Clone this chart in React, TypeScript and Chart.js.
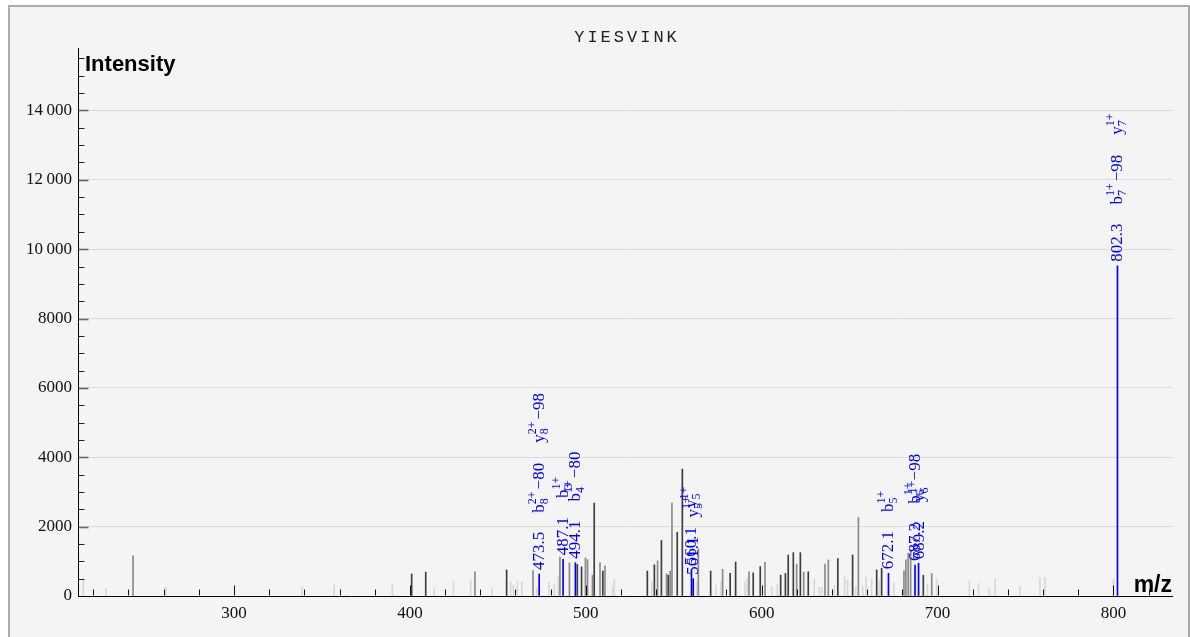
import React, { useEffect, useRef } from "react";
import { Chart, registerables } from "chart.js";
Chart.register(...registerables);

const titleText = "YIESVINK";
const yAxisTitle = "Intensity";
const xAxisTitle = "m/z";
const xTickValues = [300, 400, 500, 600, 700, 800];
const yTickValues = [0, 2000, 4000, 6000, 8000, 10000, 12000, 14000];

// faint (unmatched, low) peaks
const lightMz = [214.3, 227.2, 261.3, 338.7, 356.9, 390.0, 413.9, 424.8, 434.6, 446.7, 457.3, 458.8, 461.1, 463.6, 472.1, 479.1, 482.1, 484.4, 515.3, 516.2, 537.5, 563.2, 574.0, 576.9, 590.5, 591.8, 605.7, 608.9, 629.9, 632.8, 634.2, 641.4, 647.2, 648.8, 653.5, 657.4, 659.3, 662.5, 666.9, 675.2, 694.2, 699.5, 718.1, 723.3, 729.4, 732.7, 747.0, 758.2, 761.1, 800.0];
const lightInt = [490, 230, 240, 270, 320, 320, 230, 410, 460, 230, 410, 320, 430, 410, 230, 390, 350, 560, 300, 490, 410, 410, 320, 410, 410, 510, 270, 350, 490, 250, 250, 300, 560, 470, 270, 290, 550, 490, 460, 380, 350, 490, 430, 370, 220, 510, 270, 540, 530, 480];

// mid-gray peaks
const grayMz = [242.6, 437.0, 470.0, 485.3, 490.7, 499.8, 501.0, 503.8, 508.1, 510.9, 540.8, 545.9, 548.0, 549.0, 564.0, 577.8, 592.8, 601.9, 619.9, 623.9, 636.0, 637.9, 655.0, 680.9, 682.0, 683.3, 684.7, 696.7];
const grayInt = [1160, 700, 730, 1120, 950, 1100, 1050, 600, 965, 870, 1010, 640, 720, 2680, 1360, 770, 700, 970, 920, 690, 920, 1040, 2260, 730, 1040, 1230, 1330, 650];

// dark peaks
const darkMz = [401.0, 409.0, 455.0, 495.2, 497.6, 504.8, 509.7, 535.0, 539.0, 543.0, 546.9, 552.0, 554.9, 571.0, 582.1, 585.2, 595.2, 599.2, 610.8, 613.5, 615.1, 618.0, 622.0, 626.5, 643.3, 651.7, 665.4, 668.2, 691.9];
const darkInt = [635, 690, 750, 910, 840, 2680, 715, 720, 900, 1600, 600, 1840, 3660, 720, 655, 980, 670, 850, 600, 650, 1180, 1250, 1250, 700, 1080, 1180, 750, 800, 600];

// annotated (matched) peaks
const matchedMz = [473.5, 487.1, 494.1, 560.1, 561.1, 672.1, 687.2, 689.2, 802.3];
const matchedInt = [635, 1060, 960, 770, 500, 655, 895, 945, 9520];
// ion labels: base|subscript|superscript|suffix
const matchedIons = [
  ["b|8|2+|\u221280", "y|8|2+|\u221298"],
  ["b|3|1+|"],
  ["b|4|1+|\u221280"],
  ["y|5|1+|"],
  ["y|5|1+|"],
  ["b|5|1+|"],
  ["b|6|1+|\u221298"],
  ["y|6|1+|"],
  ["b|7|1+|\u221298", "y|7|1+|"],
];

const BLUE = "#0000ff";
const SERIF = '"Liberation Serif", "Times New Roman", serif';
const SANS = '"Liberation Sans", Arial, sans-serif';

const toPoints = (mz: number[], it: number[]) => mz.map((m, i) => ({ x: m, y: it[i] }));

const fmtY = (v: number) => {
  if (v >= 10000) {
    const s = String(v);
    return s.slice(0, s.length - 3) + "\u2009" + s.slice(s.length - 3);
  }
  return String(v);
};

const decorPlugin = {
  id: "decor",
  afterDatasetsDraw(chart: any) {
    const ctx = chart.ctx as CanvasRenderingContext2D;
    const xs = chart.scales.x;
    const ys = chart.scales.y;
    const area = chart.chartArea;
    ctx.save();
    // y ticks (inside)
    const x0 = Math.round(area.left) + 0.5;
    for (let v = 500; v <= 15500; v += 500) {
      const py = Math.round(ys.getPixelForValue(v)) + 0.5;
      const major = v % 2000 === 0;
      ctx.beginPath();
      ctx.strokeStyle = major ? "#666" : "#222";
      ctx.lineWidth = major ? 1.6 : 1;
      ctx.moveTo(x0, py);
      ctx.lineTo(x0 + (major ? 10 : 6), py);
      ctx.stroke();
    }
    // x ticks (inside)
    const yb = Math.round(area.bottom) - 0.5;
    for (let v = 220; v <= 820; v += 20) {
      const px = Math.round(xs.getPixelForValue(v)) + 0.5;
      const major = v % 100 === 0;
      ctx.beginPath();
      ctx.strokeStyle = "#111";
      ctx.lineWidth = 1;
      ctx.moveTo(px, yb);
      ctx.lineTo(px, yb - (major ? 10 : 6));
      ctx.stroke();
    }
    // axis titles
    ctx.fillStyle = "#000";
    ctx.font = `bold 22px ${SANS}`;
    ctx.textAlign = "left";
    ctx.textBaseline = "alphabetic";
    ctx.fillText(yAxisTitle, area.left + 7, area.top + 23);
    ctx.textAlign = "right";
    ctx.font = `bold 23px ${SANS}`;
    ctx.fillText(xAxisTitle, area.right, area.bottom - 4);
    // title
    ctx.font = `17px "Liberation Mono", "Courier New", monospace`;
    (ctx as any).letterSpacing = "3px";
    ctx.fillStyle = "#222";
    ctx.textAlign = "center";
    ctx.textBaseline = "middle";
    ctx.fillText(titleText, (area.left + area.right) / 2 + 2, area.top - 11);
    (ctx as any).letterSpacing = "0px";

    // peak annotations
    const meta = chart.getDatasetMeta(0);
    ctx.fillStyle = BLUE;
    ctx.textAlign = "left";
    ctx.textBaseline = "alphabetic";
    meta.data.forEach((el: any, i: number) => {
      ctx.save();
      ctx.translate(el.x, el.y - 4);
      ctx.rotate(-Math.PI / 2);
      ctx.font = `17px ${SERIF}`;
      const num = matchedMz[i].toFixed(1);
      ctx.fillText(num, 0, 5);
      let pos = ctx.measureText(num).width + 19;
      for (const ion of matchedIons[i]) {
        const [base, sub, sup, suffix] = ion.split("|");
        ctx.font = `17px ${SERIF}`;
        ctx.fillText(base, pos, 5);
        pos += ctx.measureText(base).width;
        ctx.font = `12px ${SERIF}`;
        ctx.fillText(sub, pos, 9);
        ctx.fillText(sup, pos, -3);
        pos += Math.max(ctx.measureText(sub).width, ctx.measureText(sup).width);
        if (suffix) {
          ctx.font = `17px ${SERIF}`;
          pos += 2;
          ctx.fillText(suffix, pos, 5);
          pos += ctx.measureText(suffix).width;
        }
        pos += 20;
      }
      ctx.restore();
    });
    ctx.restore();
  },
};

export default function App() {
  const ref = useRef<HTMLCanvasElement | null>(null);
  useEffect(() => {
    if (!ref.current) return;
    const barDs = (label: string, data: any[], color: string) => ({
      type: "bar" as const,
      label,
      data,
      backgroundColor: color,
      borderWidth: 0,
      barThickness: 1,
      grouped: false,
    });
    const chart = new Chart(ref.current, {
      type: "bar",
      data: {
        datasets: [
          barDs("matched", toPoints(matchedMz, matchedInt), BLUE),
          barDs("dark", toPoints(darkMz, darkInt), "#3c3c3c"),
          barDs("gray", toPoints(grayMz, grayInt), "#8a8a8a"),
          barDs("light", toPoints(lightMz, lightInt), "#d8d8d8"),
        ] as any,
      },
      options: {
        animation: false,
        responsive: false,
        devicePixelRatio: 1,
        layout: { padding: { top: 41, right: 16, left: 0, bottom: 0 } },
        plugins: { legend: { display: false }, tooltip: { enabled: false }, title: { display: false } },
        scales: {
          x: {
            type: "linear",
            min: 211.3,
            max: 833.3,
            offset: false,
            afterBuildTicks: (s: any) => {
              s.ticks = xTickValues.map((v) => ({ value: v }));
            },
            afterFit: (s: any) => {
              s.height = 41;
            },
            grid: { display: false, drawTicks: false, offset: false },
            border: { display: true, color: "#000", width: 1 },
            ticks: {
              padding: 7,
              color: "#111",
              font: { family: SERIF, size: 17 },
              callback: (v: any) => String(v),
            },
          },
          y: {
            type: "linear",
            min: 0,
            max: 15800,
            afterBuildTicks: (s: any) => {
              s.ticks = yTickValues.map((v) => ({ value: v }));
            },
            afterFit: (s: any) => {
              s.width = 68;
            },
            grid: { color: "#dcdcdc", lineWidth: 1, drawTicks: false },
            border: { display: true, color: "#000", width: 1 },
            ticks: {
              padding: 6,
              color: "#111",
              font: { family: SERIF, size: 17 },
              callback: (v: any) => fmtY(Number(v)),
            },
          },
        },
      } as any,
      plugins: [decorPlugin],
    });
    return () => chart.destroy();
  }, []);

  return (
    <>
      <style>{"html,body{overflow:hidden}"}</style>
      <div
        style={{
          position: "absolute",
          left: 8,
          top: 5,
          width: 1182,
          height: 660,
          boxSizing: "border-box",
          border: "2px solid #ababab",
          background: "#f4f4f4",
        }}
      >
        <canvas ref={ref} width={1178} height={630} style={{ display: "block", width: 1178, height: 630 }} />
      </div>
    </>
  );
}
